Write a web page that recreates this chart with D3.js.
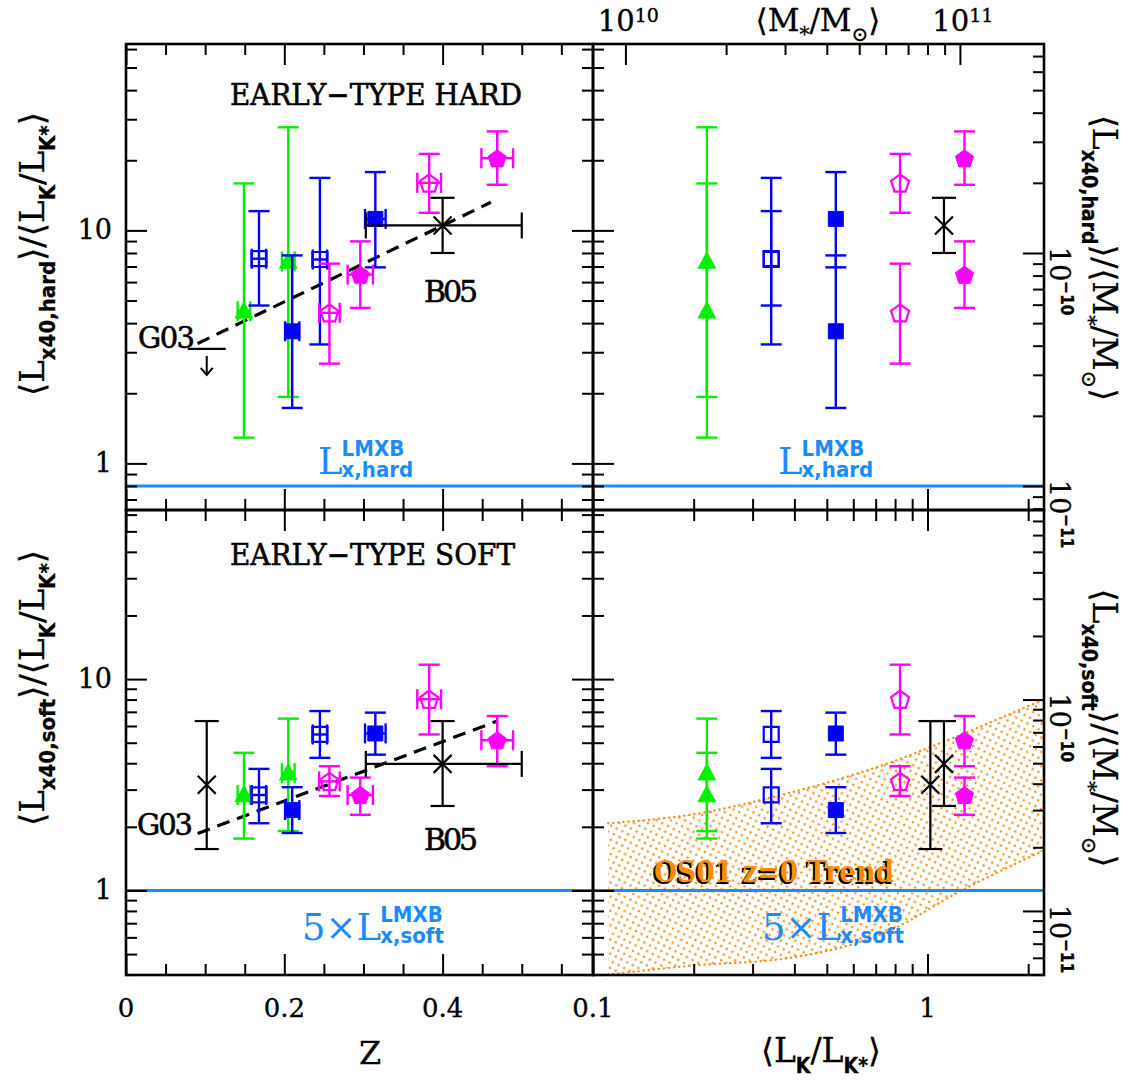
<!DOCTYPE html>
<html><head><meta charset="utf-8">
<script src="https://cdn.jsdelivr.net/npm/d3@7"></script>
<style>
body{margin:0;background:#fff}
svg{display:block;background:#fff}
</style></head><body>
<svg id="chart" width="1128" height="1082"></svg>
<script>
// ---------------- data ----------------
// five K-luminosity bins, each measured in two redshift slices
const binLK      = [0.219, 0.341, 0.532, 0.828, 1.29];
const binZ       = [[0.149, 0.205], [0.168, 0.245], [0.210, 0.315], [0.257, 0.383], [0.296, 0.469]];
const binZerr    = [[0.008, 0.008], [0.009, 0.009], [0.009, 0.013], [0.013, 0.015], [0.016, 0.020]];
const hardVal    = [[4.50, 7.36], [7.56, 7.50], [3.69, 11.2], [4.43, 16.0], [6.46, 20.4]];
const hardLo     = [[1.29, 1.93], [4.76, 3.24], [1.73, 6.94], [2.68, 11.9], [4.65, 15.7]];
const hardHi     = [[15.9, 27.7], [12.1, 16.8], [7.81, 17.8], [7.20, 21.3], [8.97, 26.6]];
const softVal    = [[2.83, 3.59], [2.83, 5.47], [2.40, 5.53], [3.28, 8.03], [2.83, 5.14]];
const softLo     = [[1.76, 1.91], [2.08, 4.24], [1.87, 4.39], [2.80, 5.47], [2.28, 3.87]];
const softHi     = [[4.48, 6.50], [3.76, 7.06], [3.08, 6.94], [3.87, 11.7], [3.42, 6.69]];

// literature points: B05 and G03 (z range, value range)
const b05Z    = [0.303, 0.40, 0.50];
const b05LK   = 1.12;
const b05Hard = [8.0, 10.5, 13.8];
const b05Soft = [2.51, 3.97, 6.33];
const g03Z    = [0.078, 0.102, 0.126];
const g03LK   = 1.02;
const g03HardLimit = 3.1;
const g03Soft = [1.57, 3.16, 6.33];

// evolution trends (dashed)
const trendHardZ = [0.0905, 0.461];
const trendHard  = [3.27, 13.2];
const trendSoftZ = [0.0905, 0.469];
const trendSoft  = [1.86, 6.33];

// LMXB expectation levels
const lmxbHard = 0.80;
const lmxbSoft = 1.0;

// OS01 z=0 relation band (soft)
const bandLK   = [0.111, 0.195, 0.388, 0.77, 1.22, 2.23];
const bandLow  = [0.40, 0.44, 0.48, 0.645, 0.97, 1.55];
const bandHigh = [2.08, 2.28, 2.90, 4.02, 5.35, 8.03];

// axis ticks
const zMajor = [0, 0.2, 0.4];
const zMajorLabels = ["0", "0.2", "0.4"];
const zMinor = [0.05, 0.1, 0.15, 0.25, 0.3, 0.35, 0.45, 0.5, 0.55];
const lkMajor = [0.1, 1];
const lkMajorLabels = ["0.1", "1"];
const lkMinor = [0.2, 0.3, 0.4, 0.5, 0.6, 0.7, 0.8, 0.9, 2];
const massMajor = [1e10, 1e11];
const massMajorExp = ["10", "11"];
const massMinor = [2e10, 3e10, 4e10, 5e10, 6e10, 7e10, 8e10, 9e10];
const yMajor = [1, 10];
const yMajorLabels = ["1", "10"];
const hardMinor = [0.7, 0.8, 0.9, 2, 3, 4, 5, 6, 7, 8, 9, 20, 30, 40, 50, 60];
const softMinor = [0.4, 0.5, 0.6, 0.7, 0.8, 0.9, 2, 3, 4, 5, 6, 7, 8, 9, 20, 30, 40, 50, 60];
const rMajor = [1e-11, 1e-10];
const rMajorExp = ["\u221211", "\u221210"];
const rMinorHard = [8e-12, 9e-12, 2e-11, 3e-11, 4e-11, 5e-11, 6e-11, 7e-11, 8e-11, 9e-11, 2e-10, 3e-10, 4e-10, 5e-10, 6e-10, 7e-10];
const rMinorSoft = [5e-12, 6e-12, 7e-12, 8e-12, 9e-12, 2e-11, 3e-11, 4e-11, 5e-11, 6e-11, 7e-11, 8e-11, 9e-11, 2e-10, 3e-10, 4e-10, 5e-10, 6e-10, 7e-10];

// ---------------- layout & scales ----------------
const P = {xl0: 126, xm: 593, xr1: 1044, yt0: 44, ym: 510, yb1: 975};
const massPerLK = 8.0e10;
const lxPerMass = 1.25e-11;

const zX    = d3.scaleLinear().domain([0, 0.59]).range([P.xl0, P.xm]);
const lkX   = d3.scaleLog().domain([0.1, 2.23]).range([P.xm, P.xr1]);
const massX = d3.scaleLog().domain(lkX.domain().map(v => v * massPerLK)).range(lkX.range());
const yHard = d3.scaleLog().domain([Math.pow(10, -0.2), Math.pow(10, 1.8)]).range([P.ym, P.yt0]);
const ySoft = d3.scaleLog().domain([Math.pow(10, -0.4), Math.pow(10, 1.8)]).range([P.yb1, P.ym]);
const rHard = d3.scaleLog().domain(yHard.domain().map(v => v * lxPerMass)).range(yHard.range());
const rSoft = d3.scaleLog().domain(ySoft.domain().map(v => v * lxPerMass)).range(ySoft.range());

const SERIF = "'DejaVu Serif', 'Liberation Serif', serif";
const SUBF = "'Liberation Sans Narrow', 'DejaVu Sans Condensed', 'DejaVu Sans', sans-serif";
const LMXB_BLUE = "#1a8cff";
const ORANGE = "#ff8c1a";

const styles = [
  {color: "#00f000", shape: "triangle", filled: true},
  {color: "#0000ff", shape: "square", filled: false},
  {color: "#0000ff", shape: "square", filled: true},
  {color: "#ff00ff", shape: "pentagon", filled: false},
  {color: "#ff00ff", shape: "pentagon", filled: true}
];

const svg = d3.select("#chart");
const defs = svg.append("defs");

// dotted fill for the OS01 band
const pat = defs.append("pattern").attr("id", "dots")
  .attr("patternUnits", "userSpaceOnUse").attr("width", 9).attr("height", 9)
  .attr("patternTransform", "rotate(-18)");
pat.append("circle").attr("cx", 2).attr("cy", 2).attr("r", 1.2).attr("fill", ORANGE);
pat.append("circle").attr("cx", 6.5).attr("cy", 6.5).attr("r", 1.2).attr("fill", ORANGE);

defs.append("clipPath").attr("id", "clipBR").append("rect")
  .attr("x", P.xm).attr("y", P.ym).attr("width", P.xr1 - P.xm).attr("height", P.yb1 - P.ym);

// ---------------- helpers ----------------
function markerPath(shape, r) {
  let pts;
  if (shape === "triangle") {
    pts = [[0, -r], [r * 0.92, r * 0.72], [-r * 0.92, r * 0.72]];
  } else if (shape === "square") {
    pts = [[-r, -r], [r, -r], [r, r], [-r, r]];
  } else {
    pts = d3.range(5).map(k => {
      const a = -Math.PI / 2 + k * 2 * Math.PI / 5;
      return [r * Math.cos(a), r * Math.sin(a) + 1];
    });
  }
  return "M" + pts.map(p => p.join(",")).join("L") + "Z";
}

function seg(g, x1, y1, x2, y2, color, w) {
  g.append("line").attr("x1", x1).attr("y1", y1).attr("x2", x2).attr("y2", y2)
    .attr("stroke", color).attr("stroke-width", w);
}

function drawPoint(g, px, py, pyLo, pyHi, pxLo, pxHi, st) {
  const c = st.color, lw = 2.4, cw = 10.5, ch = 10;
  seg(g, px, pyLo, px, pyHi, c, lw);
  seg(g, px - cw, pyLo, px + cw, pyLo, c, lw);
  seg(g, px - cw, pyHi, px + cw, pyHi, c, lw);
  if (pxLo != null) {
    seg(g, pxLo, py, pxHi, py, c, lw);
    seg(g, pxLo, py - ch, pxLo, py + ch, c, lw);
    seg(g, pxHi, py - ch, pxHi, py + ch, c, lw);
  }
  const r = st.shape === "square" ? 7.5 : 9.5;
  g.append("path").attr("d", markerPath(st.shape, r))
    .attr("transform", `translate(${px},${py})`)
    .attr("fill", st.filled ? c : "none")
    .attr("stroke", c).attr("stroke-width", st.filled ? 1 : 2.2);
}

function drawCross(g, px, py, pyLo, pyHi, pxLo, pxHi) {
  const c = "#000", lw = 2.2, cw = 12, s = 9;
  seg(g, px, pyLo, px, pyHi, c, lw);
  seg(g, px - cw, pyLo, px + cw, pyLo, c, lw);
  seg(g, px - cw, pyHi, px + cw, pyHi, c, lw);
  if (pxLo != null) {
    seg(g, pxLo, py, pxHi, py, c, lw);
    seg(g, pxLo, py - 13, pxLo, py + 13, c, lw);
    seg(g, pxHi, py - 13, pxHi, py + 13, c, lw);
  }
  seg(g, px - s, py - s, px + s, py + s, c, lw);
  seg(g, px - s, py + s, px + s, py - s, c, lw);
}

// rich text: parts = [{t, sub|sup}], baseline shifts done with dy
function rich(sel, parts, size, subSize, supShift) {
  let shift = 0;
  const up = supShift == null ? 0.42 : supShift;
  parts.forEach(p => {
    const target = p.sub ? size * 0.32 : p.sup ? -size * up : 0;
    const ts = sel.append("tspan").text(p.t).attr("dy", target - shift);
    shift = target;
    if (p.sub || p.sup) {
      ts.attr("font-size", subSize).attr("font-family", p.serif ? SERIF : SUBF)
        .attr("font-weight", p.serif ? "normal" : "bold");
    }
  });
  return sel;
}

function axis(axisFn, scale, values, len, tx, ty) {
  const ax = axisFn(scale).tickValues(values).tickSizeInner(-len).tickSizeOuter(0).tickFormat("");
  const g = svg.append("g").attr("transform", `translate(${tx},${ty})`).call(ax);
  g.select(".domain").remove();
  g.selectAll(".tick line").attr("stroke", "#000").attr("stroke-width", 2);
  return g;
}

// ---------------- band (bottom-right) ----------------
const bandData = bandLK.map((lk, i) => ({lk, lo: bandLow[i], hi: bandHigh[i]}));
const bandG = svg.append("g").attr("clip-path", "url(#clipBR)");
const area = d3.area().x(d => lkX(d.lk)).y0(d => ySoft(d.lo)).y1(d => ySoft(d.hi)).curve(d3.curveMonotoneX);
bandG.append("path").datum(bandData).attr("d", area).attr("fill", "url(#dots)");
[d => ySoft(d.lo), d => ySoft(d.hi)].forEach(yf => {
  bandG.append("path").datum(bandData)
    .attr("d", d3.line().x(d => lkX(d.lk)).y(yf).curve(d3.curveMonotoneX))
    .attr("fill", "none").attr("stroke", ORANGE).attr("stroke-width", 2.4)
    .attr("stroke-dasharray", "0.1,5").attr("stroke-linecap", "round");
});

// ---------------- LMXB levels ----------------
seg(svg, P.xl0, yHard(lmxbHard), P.xr1, yHard(lmxbHard), LMXB_BLUE, 3);
seg(svg, P.xl0, ySoft(lmxbSoft), P.xr1, ySoft(lmxbSoft), LMXB_BLUE, 3);

// ---------------- trends ----------------
[[trendHardZ, trendHard, yHard], [trendSoftZ, trendSoft, ySoft]].forEach(([zs, vs, ys]) => {
  svg.append("path").datum(zs.map((z, i) => [zX(z), ys(vs[i])]))
    .attr("d", d3.line()).attr("fill", "none").attr("stroke", "#000")
    .attr("stroke-width", 3.2).attr("stroke-dasharray", "13,8");
});

// ---------------- points ----------------
const gPts = svg.append("g");
styles.forEach((st, i) => {
  [0, 1].forEach(j => {
    const z = binZ[i][j], dz = binZerr[i][j];
    drawPoint(gPts, zX(z), yHard(hardVal[i][j]), yHard(hardLo[i][j]), yHard(hardHi[i][j]), zX(z - dz), zX(z + dz), st);
    drawPoint(gPts, zX(z), ySoft(softVal[i][j]), ySoft(softLo[i][j]), ySoft(softHi[i][j]), zX(z - dz), zX(z + dz), st);
    drawPoint(gPts, lkX(binLK[i]), yHard(hardVal[i][j]), yHard(hardLo[i][j]), yHard(hardHi[i][j]), null, null, st);
    drawPoint(gPts, lkX(binLK[i]), ySoft(softVal[i][j]), ySoft(softLo[i][j]), ySoft(softHi[i][j]), null, null, st);
  });
});

// B05
drawCross(gPts, zX(b05Z[1]), yHard(b05Hard[1]), yHard(b05Hard[0]), yHard(b05Hard[2]), zX(b05Z[0]), zX(b05Z[2]));
drawCross(gPts, zX(b05Z[1]), ySoft(b05Soft[1]), ySoft(b05Soft[0]), ySoft(b05Soft[2]), zX(b05Z[0]), zX(b05Z[2]));
drawCross(gPts, lkX(b05LK), yHard(b05Hard[1]), yHard(b05Hard[0]), yHard(b05Hard[2]), null, null);
drawCross(gPts, lkX(b05LK), ySoft(b05Soft[1]), ySoft(b05Soft[0]), ySoft(b05Soft[2]), null, null);
// G03
drawCross(gPts, zX(g03Z[1]), ySoft(g03Soft[1]), ySoft(g03Soft[0]), ySoft(g03Soft[2]), null, null);
drawCross(gPts, lkX(g03LK), ySoft(g03Soft[1]), ySoft(g03Soft[0]), ySoft(g03Soft[2]), null, null);
// G03 hard upper limit
{
  const yl = yHard(g03HardLimit), xc = zX(g03Z[1]);
  seg(gPts, zX(g03Z[0]), yl, zX(g03Z[2]), yl, "#000", 2.2);
  seg(gPts, xc, yl + 7, xc, yl + 26, "#000", 2);
  gPts.append("path").attr("d", `M${xc - 6},${yl + 19}L${xc},${yl + 26}L${xc + 6},${yl + 19}`)
    .attr("fill", "none").attr("stroke", "#000").attr("stroke-width", 2);
}

// ---------------- frames ----------------
[[P.xl0, P.yt0, P.xm, P.ym], [P.xm, P.yt0, P.xr1, P.ym], [P.xl0, P.ym, P.xm, P.yb1], [P.xm, P.ym, P.xr1, P.yb1]]
  .forEach(([x0, y0, x1, y1]) => {
    svg.append("rect").attr("x", x0).attr("y", y0).attr("width", x1 - x0).attr("height", y1 - y0)
      .attr("fill", "none").attr("stroke", "#000").attr("stroke-width", 2.6);
  });

// ---------------- ticks ----------------
const MAJ = 21, MIN = 11;
// redshift ticks on left panels
[[d3.axisTop, P.yt0], [d3.axisBottom, P.ym], [d3.axisTop, P.ym], [d3.axisBottom, P.yb1]].forEach(([fn, y]) => {
  axis(fn, zX, zMajor, MAJ, 0, y);
  axis(fn, zX, zMinor, MIN, 0, y);
});
// luminosity ticks on right panels
[[d3.axisBottom, P.ym], [d3.axisTop, P.ym], [d3.axisBottom, P.yb1]].forEach(([fn, y]) => {
  axis(fn, lkX, lkMajor, MAJ, 0, y);
  axis(fn, lkX, lkMinor, MIN, 0, y);
});
// stellar-mass ticks on top
axis(d3.axisTop, massX, massMajor, MAJ, 0, P.yt0);
axis(d3.axisTop, massX, massMinor, MIN, 0, P.yt0);
// Lx/LK ticks on both sides of x = P.xl0 and x = P.xm
[[d3.axisLeft, P.xl0], [d3.axisRight, P.xm], [d3.axisLeft, P.xm]].forEach(([fn, x]) => {
  axis(fn, yHard, yMajor, MAJ, x, 0);
  axis(fn, yHard, hardMinor, MIN, x, 0);
  axis(fn, ySoft, yMajor, MAJ, x, 0);
  axis(fn, ySoft, softMinor, MIN, x, 0);
});
// Lx/M ticks on right edge
axis(d3.axisRight, rHard, rMajor, MAJ, P.xr1, 0);
axis(d3.axisRight, rHard, rMinorHard, MIN, P.xr1, 0);
axis(d3.axisRight, rSoft, rMajor, MAJ, P.xr1, 0);
axis(d3.axisRight, rSoft, rMinorSoft, MIN, P.xr1, 0);

// ---------------- tick labels ----------------
const lab = svg.append("g").attr("font-family", SERIF).attr("fill", "#000")
  .attr("stroke", "#000").attr("stroke-width", 0.35);
zMajor.forEach((v, i) => lab.append("text").attr("x", zX(v)).attr("y", 1017)
  .attr("text-anchor", "middle").attr("font-size", 26).text(zMajorLabels[i]));
lkMajor.forEach((v, i) => lab.append("text").attr("x", lkX(v)).attr("y", 1017)
  .attr("text-anchor", "middle").attr("font-size", 26).text(lkMajorLabels[i]));
[yHard, ySoft].forEach(ys => yMajor.forEach((v, i) => lab.append("text")
  .attr("x", 112).attr("y", ys(v) + 9).attr("text-anchor", "end").attr("font-size", 27).text(yMajorLabels[i])));
massMajor.forEach((v, i) => {
  const t = lab.append("text").attr("x", massX(v) + 3).attr("y", 31).attr("text-anchor", "middle").attr("font-size", 29);
  rich(t, [{t: "10"}, {t: massMajorExp[i], sup: true, serif: true}], 29, 19, 0.3);
});
[rHard, rSoft].forEach(rs => rMajor.forEach((v, i) => {
  const t = lab.append("text").attr("transform", `translate(1050,${rs(v) - 6}) rotate(90)`)
    .attr("text-anchor", "start").attr("font-size", 27);
  rich(t, [{t: "10"}, {t: rMajorExp[i], sup: true}], 27, 17);
}));

// ---------------- axis titles ----------------
const tl = svg.append("g").attr("font-family", SERIF).attr("fill", "#000")
  .attr("stroke", "#000").attr("stroke-width", 0.3);
rich(tl.append("text").attr("x", 370).attr("y", 1064).attr("text-anchor", "middle").attr("font-size", 32), [{t: "Z"}], 32, 20);
rich(tl.append("text").attr("x", 821).attr("y", 1062).attr("text-anchor", "middle").attr("font-size", 33),
  [{t: "\u27E8L"}, {t: "K", sub: true}, {t: "/L"}, {t: "K*", sub: true}, {t: "\u27E9"}], 33, 21);
rich(tl.append("text").attr("x", 818).attr("y", 31).attr("text-anchor", "middle").attr("font-size", 31),
  [{t: "\u27E8M"}, {t: "*", sub: true, serif: true}, {t: "/M"}, {t: "\u2299", sub: true, serif: true}, {t: "\u27E9"}], 31, 20);

const leftTitle = (y, band) => rich(tl.append("text").attr("transform", `translate(44,${y}) rotate(-90)`)
  .attr("text-anchor", "middle").attr("font-size", 34),
  [{t: "\u27E8L"}, {t: "x40," + band, sub: true}, {t: "\u27E9/\u27E8L"}, {t: "K", sub: true}, {t: "/L"}, {t: "K*", sub: true}, {t: "\u27E9"}], 34, 22);
leftTitle(254, "hard");
leftTitle(688, "soft");
const rightTitle = (y, band) => rich(tl.append("text").attr("transform", `translate(1093,${y}) rotate(90)`)
  .attr("text-anchor", "middle").attr("font-size", 33),
  [{t: "\u27E8L"}, {t: "x40," + band, sub: true}, {t: "\u27E9/\u27E8M"}, {t: "*", sub: true, serif: true}, {t: "/M"}, {t: "\u2299", sub: true, serif: true}, {t: "\u27E9"}], 33, 21);
rightTitle(258, "hard");
rightTitle(728, "soft");

// ---------------- annotations ----------------
const an = svg.append("g").attr("font-family", SERIF).attr("fill", "#000");
const heavy = sel => sel.attr("stroke", "#000").attr("stroke-width", 0.6);
heavy(an.append("text").attr("x", 230).attr("y", 105).attr("font-size", 30).attr("textLength", 292)
  .attr("lengthAdjust", "spacingAndGlyphs").text("EARLY\u2212TYPE HARD"));
heavy(an.append("text").attr("x", 230).attr("y", 565).attr("font-size", 30).attr("textLength", 285)
  .attr("lengthAdjust", "spacingAndGlyphs").text("EARLY\u2212TYPE SOFT"));
heavy(an.append("text").attr("x", 424).attr("y", 302).attr("font-size", 30).attr("textLength", 54).text("B05"));
heavy(an.append("text").attr("x", 424).attr("y", 850).attr("font-size", 30).attr("textLength", 54).text("B05"));
heavy(an.append("text").attr("x", 138).attr("y", 348).attr("font-size", 29).attr("textLength", 57).text("G03"));
heavy(an.append("text").attr("x", 137).attr("y", 835).attr("font-size", 29).attr("textLength", 56).text("G03"));

// L^LMXB_x,band labels as one text each: main glyphs, superscript, subscript stacked
function lmxbLabel(x, y, prefix, band) {
  const t = svg.append("text").attr("x", x).attr("y", y).attr("fill", LMXB_BLUE)
    .attr("font-family", SERIF).attr("font-size", 37);
  t.append("tspan").text(prefix + "L");
  const probe = svg.append("text").attr("font-family", SERIF).attr("font-size", 37).text(prefix + "L");
  const w = probe.node().getComputedTextLength();
  probe.remove();
  t.append("tspan").attr("x", x + w - 1).attr("dy", -18).attr("font-family", SUBF).attr("font-weight", "bold")
    .attr("font-size", 22).text("LMXB");
  t.append("tspan").attr("x", x + w - 1).attr("dy", 21).attr("font-family", SUBF).attr("font-weight", "bold")
    .attr("font-size", 22).text("x," + band);
}
lmxbLabel(318, 474, "", "hard");
lmxbLabel(778, 474, "", "hard");
lmxbLabel(302, 940, "5\u00D7", "soft");
lmxbLabel(762, 940, "5\u00D7", "soft");

// OS01 label: dark shadow under orange
svg.append("text").attr("font-family", SERIF).attr("font-size", 30).attr("font-weight", "bold")
  .attr("x", 652).attr("y", 884).attr("fill", "#000").attr("textLength", 240)
  .attr("lengthAdjust", "spacingAndGlyphs").text("OS01 z=0 Trend");
svg.append("text").attr("font-family", SERIF).attr("font-size", 30).attr("font-weight", "bold")
  .attr("x", 654).attr("y", 882).attr("fill", "#ff8c00").attr("textLength", 240)
  .attr("lengthAdjust", "spacingAndGlyphs").text("OS01 z=0 Trend");
</script>
</body></html>
